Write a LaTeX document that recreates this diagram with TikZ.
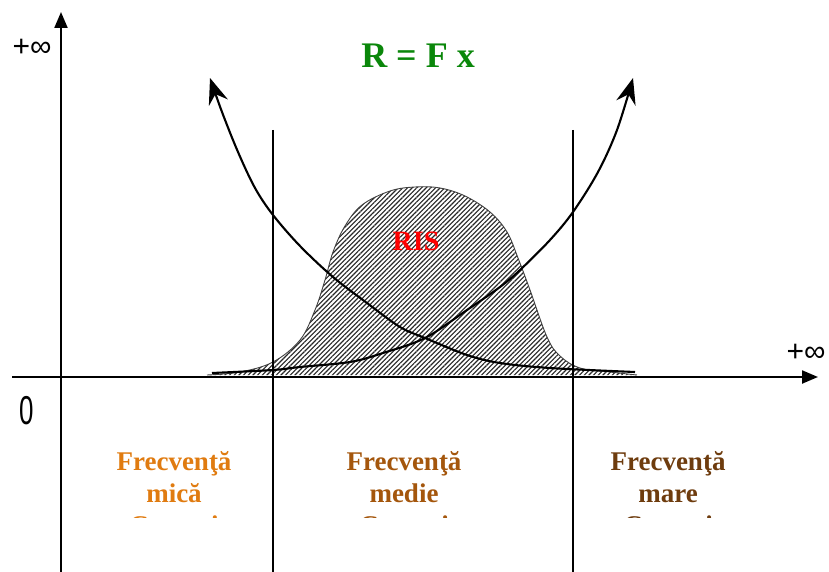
\documentclass[tikz,border=0pt]{standalone}
\usepackage{fontspec}
\setmainfont{Liberation Serif}
\newfontfamily\arialf{Liberation Sans}
\usetikzlibrary{arrows.meta,patterns.meta}
\definecolor{titlegreen}{HTML}{0A870A}
\definecolor{lowc}{HTML}{E07B10}
\definecolor{midc}{HTML}{A4560C}
\definecolor{highc}{HTML}{6E3C0E}
\tikzset{
  axis/.style={line width=2.2pt,-{Triangle[length=16pt,width=13pt]}},
  divider/.style={line width=1.8pt},
  curve/.style={line width=2.1pt,-{Stealth[length=26pt,width=20pt,inset=9pt]}},
  inf/.style={font=\arialf\fontsize{30}{32}\selectfont,inner sep=0pt},
  band/.style={font=\bfseries\fontsize{27}{32}\selectfont,inner sep=0pt,anchor=base}
}
\begin{document}
\begin{tikzpicture}[x=1pt,y=-1pt]
\useasboundingbox (0,0) rectangle (829,572);
% hatched bell
\path[pattern={Lines[angle=45,distance=3.3pt,line width=1.1pt]},pattern color=black!85]
  plot[smooth,tension=0.6] coordinates{(207,375) (240,372) (273,362) (300,340) (315,310) (325,280) (333,252) (345,226) (362,205) (390,191) (415,187) (440,188) (465,196) (490,212) (507,232) (518,258) (530,290) (547,337) (560,356) (580,368) (610,372) (637,375)} -- cycle;
\draw[line width=0.9pt,black!75]
  plot[smooth,tension=0.6] coordinates{(207,375) (240,372) (273,362) (300,340) (315,310) (325,280) (333,252) (345,226) (362,205) (390,191) (415,187) (440,188) (465,196) (490,212) (507,232) (518,258) (530,290) (547,337) (560,356) (580,368) (610,372) (637,375)};
% axes
\coordinate (yb) at (61,572);
\coordinate (yt) at (61,12);
\coordinate (xl) at (12,377);
\coordinate (xr) at (818,377);
\draw[axis] (yb) -- (yt);
\draw[axis] (xl) -- (xr);
% dividers
\coordinate (d1t) at (273,130);
\coordinate (d1b) at (273,572);
\coordinate (d2t) at (573,130);
\coordinate (d2b) at (573,572);
\draw[divider] (d1t) -- (d1b);
\draw[divider] (d2t) -- (d2b);
% curves
\draw[curve] plot[smooth,tension=0.55] coordinates{(635,372) (550,368) (500,363) (467,355) (425,338) (400,327) (367,303) (333,277) (300,246) (273,215) (255,188) (238,152) (222,112) (210,78)};
\draw[curve] plot[smooth,tension=0.55] coordinates{(212,373) (273,370) (300,367) (350,362) (383,353) (425,338) (467,310) (500,287) (520,270) (550,240) (573,212) (598,172) (617,130) (633,78)};
% labels
\node[inf] (pinfy) at (32,48) {+∞};
\node[inf] (pinfx) at (806,353) {+∞};
\node[font=\arialf\fontsize{36}{38}\selectfont,inner sep=0pt,xscale=0.72,yscale=1.12] (zero) at (27,411) {0};
\node[font=\bfseries\fontsize{36}{40}\selectfont,text=titlegreen,inner sep=0pt] (title) at (418,56) {R = F x};
\node[font=\bfseries\fontsize{28}{30}\selectfont,text=red,inner sep=0pt] (ris) at (416,241) {RIS};
\begin{scope}
\clip (0,430) rectangle (829,517);
\node[band,text=lowc] (l1) at (174,470) {Frecvenţă};
\node[band,text=lowc] (l2) at (174,502) {mică};
\node[band,text=lowc] (l3) at (174,534) {Curenţi};
\node[band,text=midc] (m1) at (404,470) {Frecvenţă};
\node[band,text=midc] (m2) at (404,502) {medie};
\node[band,text=midc] (m3) at (404,534) {Curenţi};
\node[band,text=highc] (h1) at (668,470) {Frecvenţă};
\node[band,text=highc] (h2) at (668,502) {mare};
\node[band,text=highc] (h3) at (668,534) {Curenţi};
\end{scope}
\end{tikzpicture}
\end{document}
